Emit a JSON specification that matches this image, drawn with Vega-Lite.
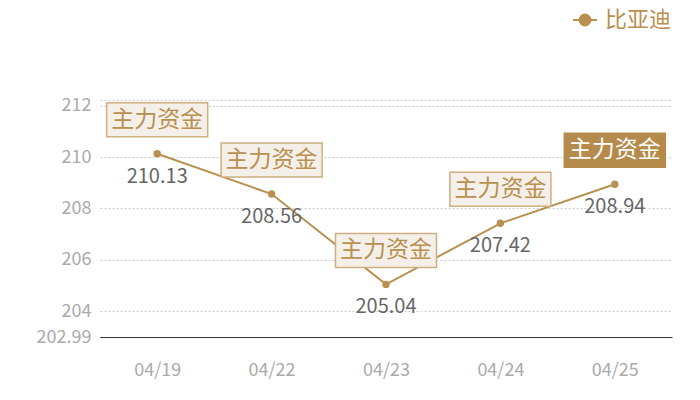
{
  "$schema": "https://vega.github.io/schema/vega-lite/v6.json",
  "autosize": "none",
  "width": 572,
  "height": 237,
  "padding": {"left": 100, "top": 100, "right": 28, "bottom": 63},
  "background": "#ffffff",
  "data": {
    "values": [
      {"date": "04/19", "value": 210.13, "name": "比亚迪", "tag": "主力资金"},
      {"date": "04/22", "value": 208.56, "name": "比亚迪", "tag": "主力资金"},
      {"date": "04/23", "value": 205.04, "name": "比亚迪", "tag": "主力资金"},
      {"date": "04/24", "value": 207.42, "name": "比亚迪", "tag": "主力资金"},
      {"date": "04/25", "value": 208.94, "name": "比亚迪", "tag": "主力资金"}
    ]
  },
  "encoding": {
    "x": {
      "field": "date", "type": "ordinal",
      "scale": {"type": "point", "padding": 0.5},
      "axis": {
        "title": null, "labelAngle": 0, "ticks": false,
        "domainColor": "#333333", "domainWidth": 1,
        "labelColor": "#aaaaaa", "labelFontSize": 18, "labelPadding": 24
      }
    },
    "y": {
      "field": "value", "type": "quantitative",
      "scale": {"domain": [202.99, 212.225], "nice": false, "zero": false},
      "axis": {
        "title": null, "domain": false, "ticks": false,
        "values": [202.99, 204, 206, 208, 210, 212, 212.225],
        "labelExpr": "datum.value > 212.1 ? '' : format(datum.value, '.5~r')",
        "labelColor": "#aaaaaa", "labelFontSize": 18, "labelPadding": 9,
        "gridColor": "#cccccc", "gridDash": [2, 2], "gridWidth": 1
      }
    }
  },
  "layer": [
    {
      "mark": {"type": "line", "strokeWidth": 2},
      "encoding": {
        "color": {
          "field": "name", "type": "nominal",
          "scale": {"range": ["#b8904f"]},
          "legend": {
            "title": null, "orient": "none", "legendX": 472, "legendY": -93,
            "symbolType": "M-1,0H-0.45M0.45,0H1M-0.45,0A0.45,0.45,0,1,1,0.45,0A0.45,0.45,0,1,1,-0.45,0Z",
            "symbolSize": 576, "symbolStrokeWidth": 2,
            "symbolFillColor": "#b8904f", "symbolStrokeColor": "#d4bb94",
            "labelFontSize": 22, "labelColor": "#b8904f", "labelOffset": 7
          }
        }
      }
    },
    {
      "mark": {"type": "point", "filled": true, "size": 55, "color": "#b8904f", "opacity": 1}
    },
    {
      "mark": {
        "type": "point",
        "shape": "M-1,-0.3366H1V0.3366H-1Z",
        "size": 10201, "yOffset": -34, "strokeWidth": 1.5, "opacity": 1, "filled": false
      },
      "encoding": {
        "fill": {"condition": {"test": "datum.date === '04/25'", "value": "#b58b4c"}, "value": "#f4efe8"},
        "stroke": {"condition": {"test": "datum.date === '04/25'", "value": "#b58b4c"}, "value": "#cfae7f"}
      }
    },
    {
      "mark": {"type": "text", "yOffset": -34, "fontSize": 23, "baseline": "middle", "align": "center"},
      "encoding": {
        "text": {"field": "tag"},
        "color": {"condition": {"test": "datum.date === '04/25'", "value": "#ffffff"}, "value": "#b8904f"}
      }
    },
    {
      "mark": {"type": "text", "yOffset": 23, "fontSize": 20, "baseline": "middle", "align": "center", "color": "#666666"},
      "encoding": {
        "text": {"field": "value", "type": "quantitative", "format": ".2f"}
      }
    }
  ],
  "config": {
    "font": "Noto Sans CJK SC",
    "view": {"stroke": null},
    "axis": {"labelFont": "Noto Sans CJK SC"},
    "legend": {"labelFont": "Noto Sans CJK SC"}
  }
}
